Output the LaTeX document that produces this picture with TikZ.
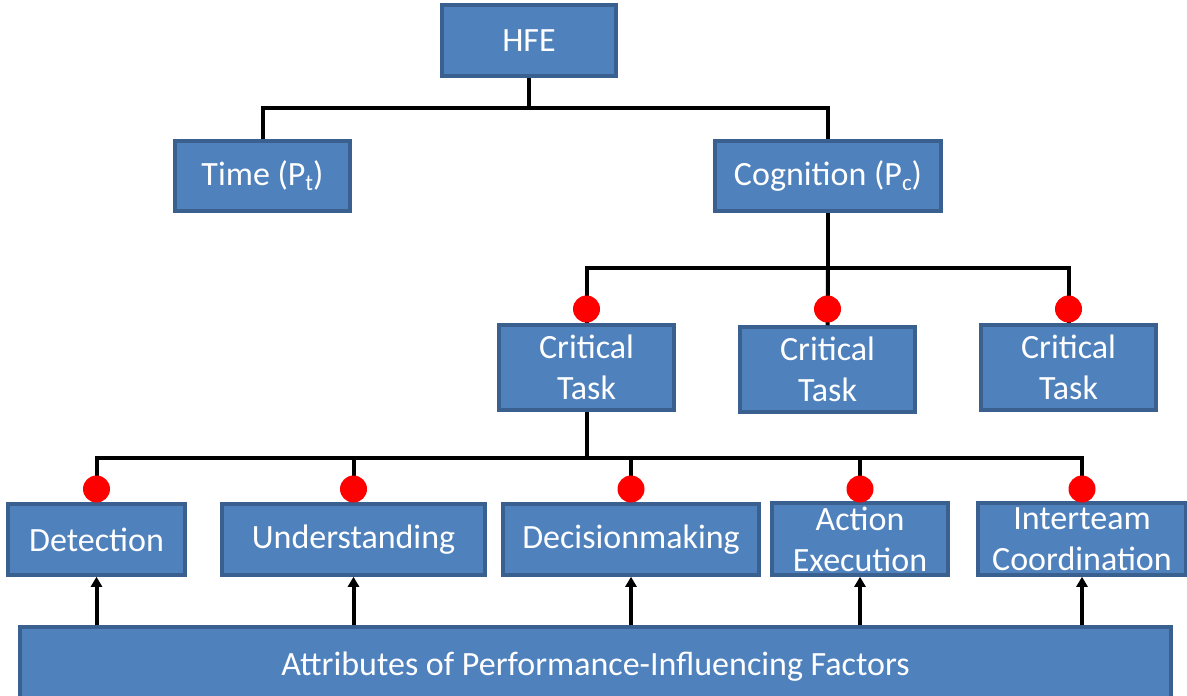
\documentclass[tikz,border=0pt]{standalone}
\usepackage{fontspec}
\setmainfont{Carlito}
\usetikzlibrary{arrows.meta}
\definecolor{boxfill}{HTML}{4F81BD}
\definecolor{boxline}{HTML}{3A6090}
\newcommand{\mysub}[1]{\raisebox{-0.3ex}{\fontsize{23}{23}\selectfont #1}}
\begin{document}
\begin{tikzpicture}[x=1pt,y=-1pt,
  box/.style={draw=boxline, fill=boxfill, line width=3.5pt, text=white, font=\fontsize{34}{41}\selectfont, align=center, inner sep=0pt},
  conn/.style={line width=4pt, black},
  arr/.style={line width=4pt, black, -{Triangle[length=10pt,width=11pt]}},
  dot/.style={circle, fill=red, minimum size=27pt, inner sep=0pt}]
\useasboundingbox (0,0) rectangle (1187,696);
\node[box, minimum width=174pt, minimum height=71pt] (hfe) at (529,40.5) {HFE};
\node[box, minimum width=175pt, minimum height=70pt] (time) at (262.5,176) {Time (P\mysub{t})};
\node[box, minimum width=226pt, minimum height=70pt] (cog) at (828,176) {Cognition (P\mysub{c})};
\node[box, minimum width=175pt, minimum height=85pt] (ct1) at (586.5,367.5) {Critical\\Task};
\node[box, minimum width=175pt, minimum height=85pt] (ct2) at (827.5,369.5) {Critical\\Task};
\node[box, minimum width=175pt, minimum height=85pt] (ct3) at (1068.5,367.5) {Critical\\Task};
\node[box, minimum width=177pt, minimum height=71pt] (det) at (96.5,539.5) {Detection};
\node[box, minimum width=263pt, minimum height=71pt] (und) at (353.5,539.5) {Understanding};
\node[box, minimum width=256pt, minimum height=71pt] (dec) at (631,539.5) {Decisionmaking};
\node[box, minimum width=176pt, minimum height=72pt] (act) at (860,539) {Action\\Execution};
\node[box, minimum width=208pt, minimum height=72pt] (int) at (1082,539) {Interteam\\Coordination};
\node[box, minimum width=1151pt, minimum height=80pt] (pif) at (595.5,667) {Attributes of Performance-Influencing Factors};
% top tree
\coordinate (j1) at (529,108);
\draw[conn] (hfe.south) -- (j1);
\draw[conn] (time.north) |- (j1) -| (cog.north);
% cognition to critical tasks
\coordinate (j2) at (828,268);
\draw[conn] (cog.south) -- (j2);
\draw[conn] (ct1.north) |- (j2) -| (ct3.north);
\draw[conn] (j2) -- (ct2.north);
% critical task to functions
\coordinate (j3) at (586.5,458);
\draw[conn] (ct1.south) -- (j3);
\draw[conn] (det.north) |- (j3) -| (int.north);
\draw[conn] (und.north) -- (und.north |- j3);
\draw[conn] (dec.north) -- (dec.north |- j3);
\draw[conn] (act.north) -- (act.north |- j3);
% dots
\node[dot] (d1) at (586.5,309) {};
\node[dot] (d2) at (827.5,309) {};
\node[dot] (d3) at (1068.5,309) {};
\node[dot] (e1) at (96.5,489) {};
\node[dot] (e2) at (353.5,489) {};
\node[dot] (e3) at (631,489) {};
\node[dot] (e4) at (860,489) {};
\node[dot] (e5) at (1082,489) {};
% arrows
\draw[arr] (pif.north -| det.south) -- (det.south);
\draw[arr] (pif.north -| und.south) -- (und.south);
\draw[arr] (pif.north -| dec.south) -- (dec.south);
\draw[arr] (pif.north -| act.south) -- (act.south);
\draw[arr] (pif.north -| int.south) -- (int.south);
\end{tikzpicture}
\end{document}
